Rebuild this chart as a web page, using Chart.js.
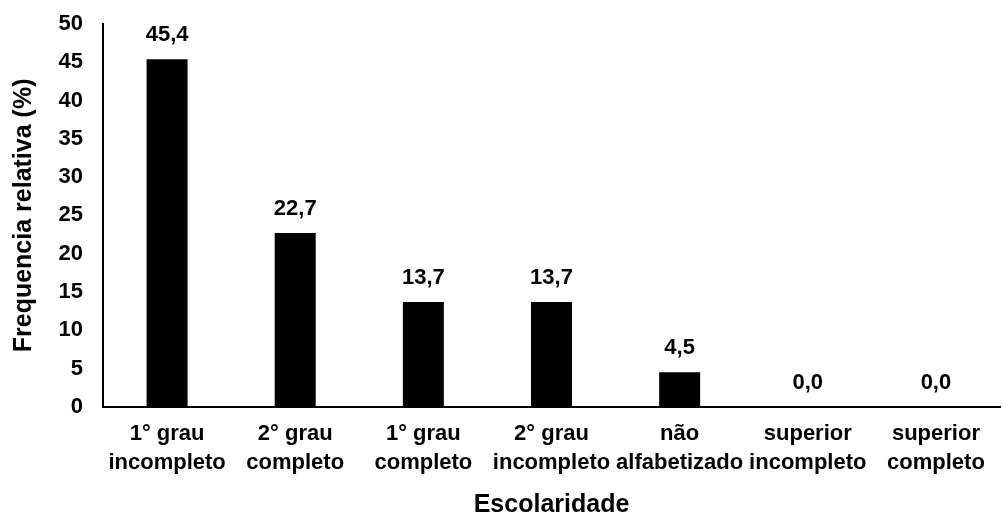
<!DOCTYPE html>
<html>
<head>
<meta charset="utf-8">
<script src="https://cdn.jsdelivr.net/npm/chart.js@4"></script>
<style>
  html, body { margin: 0; padding: 0; background: #fff; }
  #wrap { width: 1003px; height: 518px; }
</style>
</head>
<body>
<div id="wrap"><canvas id="c" width="1003" height="518"></canvas></div>
<script>
const categories = [
  ["1° grau", "incompleto"],
  ["2° grau", "completo"],
  ["1° grau", "completo"],
  ["2° grau", "incompleto"],
  ["não", "alfabetizado"],
  ["superior", "incompleto"],
  ["superior", "completo"]
];
const frequencia = [45.4, 22.7, 13.7, 13.7, 4.5, 0.0, 0.0];
const yMin = 0, yMax = 50, yStep = 5;

const FONT = "'Liberation Sans', Arial, sans-serif";

const valueLabels = {
  id: 'valueLabels',
  afterDatasetsDraw(chart) {
    const ctx = chart.ctx;
    const meta = chart.getDatasetMeta(0);
    ctx.save();
    ctx.font = "bold 22px " + FONT;
    ctx.fillStyle = '#000';
    ctx.textAlign = 'center';
    ctx.textBaseline = 'middle';
    meta.data.forEach((el, i) => {
      const v = chart.data.datasets[0].data[i];
      ctx.fillText(v.toFixed(1).replace('.', ','), el.x, el.y - 24);
    });
    ctx.restore();
  }
};

new Chart(document.getElementById('c'), {
  type: 'bar',
  data: {
    labels: categories,
    datasets: [{
      data: frequencia,
      backgroundColor: '#000',
      borderWidth: 0,
      categoryPercentage: 1.0,
      barPercentage: 0.32
    }]
  },
  options: {
    responsive: false,
    animation: false,
    devicePixelRatio: 1,
    layout: { padding: { left: 0, right: 3, top: 24, bottom: 0 } },
    plugins: { legend: { display: false }, tooltip: { enabled: false } },
    scales: {
      x: {
        grid: { display: false, drawTicks: false },
        border: { display: true, color: '#000', width: 2 },
        ticks: {
          color: '#000',
          font: { family: FONT, size: 22, weight: 'bold', lineHeight: 1.3 },
          padding: 13,
          maxRotation: 0,
          minRotation: 0,
          autoSkip: false
        },
        title: {
          display: true,
          text: 'Escolaridade',
          color: '#000',
          font: { family: FONT, size: 25, weight: 'bold', lineHeight: 1.0 },
          padding: { top: 3, bottom: 0 }
        }
      },
      y: {
        min: yMin,
        max: yMax,
        grid: { display: false, drawTicks: false },
        border: { display: true, color: '#000', width: 2 },
        ticks: {
          stepSize: yStep,
          color: '#000',
          font: { family: FONT, size: 22, weight: 'bold' },
          padding: 20
        },
        title: {
          display: true,
          text: 'Frequencia relativa (%)',
          color: '#000',
          font: { family: FONT, size: 25, weight: 'bold' },
          padding: { top: 9, bottom: 0 }
        },
        afterFit(scale) {
          scale.width = 103;
          scale.paddingTop = 0;
          scale.paddingBottom = 0;
        }
      }
    }
  },
  plugins: [valueLabels]
});
</script>
</body>
</html>
